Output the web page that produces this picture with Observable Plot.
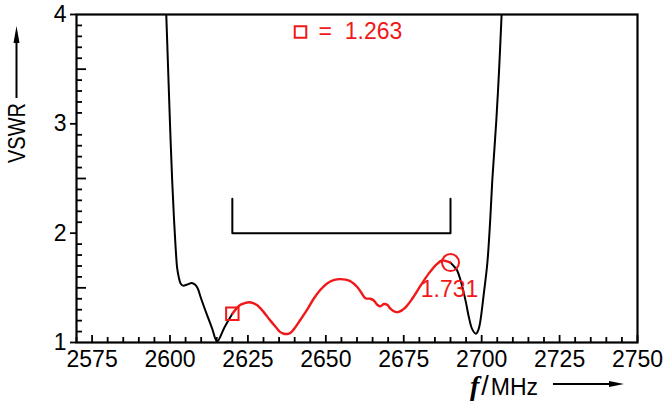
<!DOCTYPE html>
<html>
<head>
<meta charset="utf-8">
<script src="https://cdn.jsdelivr.net/npm/d3@7"></script>
<script src="https://cdn.jsdelivr.net/npm/@observablehq/plot@0.6"></script>
<style>
  html, body { margin: 0; padding: 0; background: #fff; }
</style>
</head>
<body>
<div id="chart"></div>
<script>
// ---- data ----
const xTicks = [2575, 2600, 2625, 2650, 2675, 2700, 2725, 2750];
const yTicks = [1, 2, 3, 4];

const blackLeftX = [2598.8, 2599.4, 2600.0, 2600.7, 2601.3, 2601.8, 2602.3, 2602.8, 2603.4, 2604.2, 2605.5, 2607.0, 2608.0, 2608.8, 2610.0, 2611.9, 2613.5, 2615.1, 2617.5, 2620.0];
const blackLeftY = [4.0, 3.5, 3.0, 2.48, 2.12, 1.87, 1.68, 1.60, 1.54, 1.52, 1.53, 1.545, 1.53, 1.50, 1.40, 1.25, 1.13, 1.01, 1.14, 1.263];

const redX = [2620.0, 2621.3, 2622.6, 2624.0, 2625.3, 2626.7, 2628.0, 2630.0, 2632.2, 2634.0, 2635.4, 2636.5, 2637.6, 2638.7, 2639.7, 2641.9, 2644.0, 2646.1, 2648.2, 2650.4, 2652.5, 2654.7, 2656.3, 2657.9, 2660.0, 2661.5, 2662.7, 2664.3, 2665.4, 2666.5, 2667.5, 2668.6, 2669.7, 2670.7, 2672.3, 2673.4, 2675.5, 2677.7, 2680.4, 2683.0, 2685.7, 2687.3, 2688.6, 2690.0];
const redY = [1.263, 1.31, 1.345, 1.36, 1.368, 1.36, 1.34, 1.28, 1.20, 1.14, 1.095, 1.08, 1.078, 1.09, 1.12, 1.21, 1.30, 1.40, 1.48, 1.54, 1.57, 1.58, 1.575, 1.56, 1.51, 1.45, 1.405, 1.40, 1.384, 1.345, 1.33, 1.352, 1.345, 1.31, 1.28, 1.28, 1.32, 1.40, 1.52, 1.63, 1.72, 1.75, 1.745, 1.731];

const blackRightX = [2690.0, 2691.0, 2692.1, 2693.7, 2695.0, 2695.9, 2697.0, 2698.2, 2699.0, 2699.6, 2700.7, 2701.8, 2702.7, 2703.4, 2704.7, 2705.6, 2706.4];
const blackRightY = [1.731, 1.70, 1.66, 1.52, 1.36, 1.23, 1.12, 1.08, 1.12, 1.20, 1.45, 1.72, 2.10, 2.48, 3.03, 3.5, 4.0];

const bracketX = [2620, 2620, 2690, 2690];
const bracketY = [2.315, 2.0, 2.0, 2.315];

const squareMarker = {x: 2620, y: 1.263, label: "1.263"};
const circleMarker = {x: 2690, y: 1.731, label: "1.731"};

const xLabel = "MHz";
const yLabel = "VSWR";

// ---- build tables ----
const toRows = (xs, ys) => xs.map((x, i) => ({x, y: ys[i]}));
const blackLeft = toRows(blackLeftX, blackLeftY);
const blackRight = toRows(blackRightX, blackRightY);
const red = toRows(redX, redY);
const bracket = toRows(bracketX, bracketY);

const xMinor = d3.range(2570, 2751, 5).filter(v => !xTicks.includes(v));
const yMinor = d3.range(1.1, 4, 0.1).map(v => +v.toFixed(1)).filter(v => !yTicks.includes(v) && Math.abs(v % 1 - 0.5) > 1e-6);
const yHalf = [1.5, 2.5, 3.5];

const RED = "#f01818";
const FONT = "'Liberation Sans', Arial, sans-serif";

// axis-title render function (positions relative to plot dimensions)
function axisTitles(index, scales, values, dim) {
  const g = d3.create("svg:g");
  const W = dim.width, H = dim.height;
  const fx = W - dim.marginRight;           // right edge of frame
  const fy = H - dim.marginBottom;          // bottom of frame
  // x title
  const t = g.append("text")
    .attr("x", fx - 167).attr("y", fy + 53).attr("text-anchor", "start")
    .attr("font-family", FONT).attr("font-size", 23).attr("fill", "black");
  t.append("tspan").attr("font-family", "'Liberation Serif', 'DejaVu Serif', serif")
    .attr("font-style", "italic").attr("font-weight", "bold").attr("font-size", 28).text("f");
  t.append("tspan").attr("dx", 2).attr("font-size", 27).text("/");
  t.append("tspan").attr("dx", 2).text(xLabel);
  const ay = fy + 42;
  g.append("line").attr("x1", fx - 84).attr("x2", fx - 24).attr("y1", ay).attr("y2", ay)
    .attr("stroke", "black").attr("stroke-width", 2);
  g.append("path").attr("d", `M${fx - 28},${ay - 3}L${fx - 13},${ay}L${fx - 28},${ay + 3}Z`).attr("fill", "black");
  // y title
  const gy = g.append("g").attr("transform", `translate(25,${dim.marginTop + 149}) rotate(-90)`);
  gy.append("text").attr("x", 0).attr("y", 0).attr("text-anchor", "start")
    .attr("textLength", 60).attr("lengthAdjust", "spacingAndGlyphs")
    .attr("font-family", FONT).attr("font-size", 23).attr("fill", "black").text(yLabel);
  gy.append("line").attr("x1", 65).attr("x2", 124).attr("y1", -8.5).attr("y2", -8.5)
    .attr("stroke", "black").attr("stroke-width", 2);
  gy.append("path").attr("d", `M120,-11.5L137,-8.5L120,-5.5Z`).attr("fill", "black");
  return g.node();
}

const chart = Plot.plot({
  width: 666,
  height: 403,
  marginLeft: 76,
  marginRight: 29,
  marginTop: 14,
  marginBottom: 61,
  x: {domain: [2570, 2750]},
  y: {domain: [1, 4]},
  style: {fontFamily: FONT, fontSize: "23px", color: "black", background: "white"},
  marks: [
    // axes
    Plot.axisX(xTicks, {tickSize: 0, tickPadding: 8, fontSize: 23, label: null, tickFormat: d => String(d)}),
    Plot.axisX(xMinor, {tickSize: -5, tickFormat: () => "", label: null, strokeWidth: 1.8}),
    Plot.axisX(xTicks, {tickSize: -7, tickFormat: () => "", label: null, strokeWidth: 1.8}),
    Plot.axisY(yTicks, {tickSize: 6, tickPadding: 4, fontSize: 23, label: null, tickFormat: d => String(d), strokeWidth: 1.8}),
    Plot.axisY(yMinor, {tickSize: -6, tickFormat: () => "", label: null, strokeWidth: 1.8}),
    Plot.axisY(yHalf, {tickSize: -10, tickFormat: () => "", label: null, strokeWidth: 1.8}),
    Plot.frame({stroke: "black", strokeWidth: 2.2}),
    // curves
    Plot.line(blackLeft, {x: "x", y: "y", stroke: "black", strokeWidth: 2, curve: "catmull-rom", clip: true}),
    Plot.line(blackRight, {x: "x", y: "y", stroke: "black", strokeWidth: 2, curve: "catmull-rom", clip: true}),
    Plot.line(red, {x: "x", y: "y", stroke: RED, strokeWidth: 2.4, curve: "catmull-rom"}),
    // bracket
    Plot.line(bracket, {x: "x", y: "y", stroke: "black", strokeWidth: 2}),
    // markers
    Plot.dot([squareMarker], {x: "x", y: "y", symbol: "square", r: 7, stroke: RED, strokeWidth: 2, fill: "none"}),
    Plot.dot([circleMarker], {x: "x", y: "y", symbol: "circle", r: 8.5, stroke: RED, strokeWidth: 2, fill: "none"}),
    Plot.text([circleMarker], {x: "x", y: "y", text: "label", dx: -1, dy: 27, fill: RED, fontSize: 23, textAnchor: "middle", lineAnchor: "middle"}),
    // legend at top
    Plot.dot([squareMarker], {frameAnchor: "top-left", dx: 224, dy: 17.5, symbol: "square", r: 6.5, stroke: RED, strokeWidth: 2, fill: "none"}),
    Plot.text([squareMarker], {frameAnchor: "top-left", dx: 242, dy: 17.5, text: d => "=\u00a0\u00a0" + d.label, fill: RED, fontSize: 23, textAnchor: "start", lineAnchor: "middle"}),
    axisTitles
  ]
});
document.getElementById("chart").appendChild(chart);
</script>
</body>
</html>
